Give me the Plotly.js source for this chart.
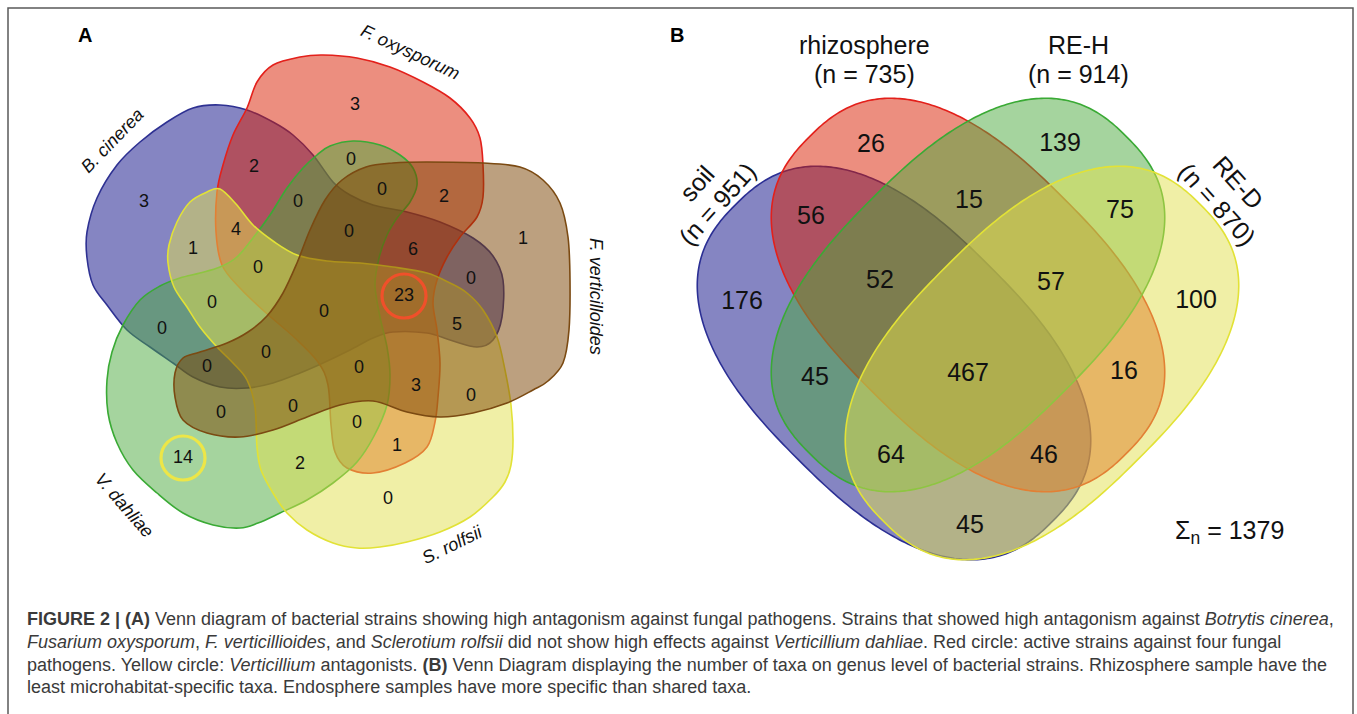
<!DOCTYPE html>
<html>
<head>
<meta charset="utf-8">
<script src="https://cdn.plot.ly/plotly-3.0.1.min.js"></script>
<style>
  html, body { margin: 0; padding: 0; background: #ffffff; }
  #chart { width: 1357px; height: 714px; }
</style>
</head>
<body>
<div id="chart"></div>
<script>
// ================= DATA =================
// Panel A: five fungal pathogens
const setNamesA = ['B. cinerea', 'F. oxysporum', 'F. verticilloides', 'S. rolfsii', 'V. dahliae'];
const setCodesA = ['C', 'O', 'F', 'S', 'D'];
// region keys: letters of the sets the region belongs to
const regionKeysA = ['C','O','F','S','D','CO','OD','OFD','OF','COD','COS','COFD','COF','CS','COSD','CF',
                     'COFS','CSD','COFSD','CD','CFS','CFD','CFSD','OFSD','OFS','FS','FD','FSD','OSD','OS','SD'];
const countsA     = [3, 3, 1, 0, 14, 2, 0, 0, 2, 0, 4, 0, 6, 1, 0, 0,
                     23, 0, 0, 0, 5, 0, 0, 0, 3, 0, 0, 0, 0, 1, 2];
const highlightA  = ['COFS', 'D'];   // red circle, yellow circle

// Panel B: genus-level taxa per microhabitat
const setNamesB   = ['soil', 'rhizosphere', 'RE-H', 'RE-D'];
const setCodesB   = ['S', 'R', 'H', 'D'];
const setSizesB   = [951, 735, 914, 870];
const regionKeysB = ['S','R','H','D','SR','RH','HD','SH','SD','RD','SRH','RHD','SHD','SRD','SRHD'];
const countsB     = [176, 26, 139, 100, 56, 15, 75, 45, 45, 16, 52, 57, 64, 46, 467];

// Caption
const captionLines = [
  '<b>FIGURE 2 | (A)</b> Venn diagram of bacterial strains showing high antagonism against fungal pathogens. Strains that showed high antagonism against <i>Botrytis cinerea</i>,',
  '<i>Fusarium oxysporum</i>, <i>F. verticillioides</i>, and <i>Sclerotium rolfsii</i> did not show high effects against <i>Verticillium dahliae</i>. Red circle: active strains against four fungal',
  'pathogens. Yellow circle: <i>Verticillium</i> antagonists. <b>(B)</b> Venn Diagram displaying the number of taxa on genus level of bacterial strains. Rhizosphere sample have the',
  'least microhabitat-specific taxa. Endosphere samples have more specific than shared taxa.'
];

// ================= GEOMETRY / STYLE (layout only) =================
const FONT = 'Liberation Sans, Arial, Helvetica, sans-serif';
const styleA = {
  C: {fill: 'rgba(11,11,133,0.5)',  line: '#2e3192'},
  O: {fill: 'rgba(217,29,0,0.5)',   line: '#e3201b'},
  D: {fill: 'rgba(75,169,61,0.5)',  line: '#3aaa35'},
  S: {fill: 'rgba(225,223,77,0.5)', line: '#e2e236'},
  F: {fill: 'rgba(121,65,0,0.5)',   line: '#7b4a12'}
};
const drawOrderA = ['C', 'O', 'D', 'S', 'F'];
// outline control points of the five blobs (page pixel space)
const blobA = {
  C: [[220,105],[247,110],[273,122],[293,135],[313,155],[333,182],[350,195],[373,205],[407,212],[440,222],
      [473,238],[493,256],[503,280],[502,317],[493,340],[477,347],[450,340],[427,333],[393,332],[373,338],
      [350,350],[323,363],[300,373],[273,383],[247,388],[220,387],[193,377],[173,363],[150,347],[127,330],
      [107,305],[93,285],[87,258],[87,232],[97,198],[117,165],[140,142],[167,122],[193,108]],
  O: [[323,55],[357,58],[390,67],[423,82],[450,98],[470,118],[480,138],[483,165],[483,197],[477,217],
      [460,237],[447,257],[437,280],[433,303],[437,330],[440,363],[438,397],[435,422],[427,447],[405,463],
      [373,473],[347,468],[335,452],[331,425],[328,385],[318,362],[295,338],[265,312],[240,288],[222,265],
      [216,232],[217,192],[223,165],[233,135],[247,108],[257,82],[273,65],[300,57]],
  D: [[317,155],[330,146],[353,141],[380,145],[400,155],[413,168],[417,185],[410,202],[397,218],[387,235],
      [379,258],[375,285],[380,317],[387,347],[390,375],[387,405],[374,436],[357,462],[333,483],[307,500],
      [280,513],[258,523],[240,528],[213,525],[183,513],[157,493],[133,470],[117,443],[108,413],[107,380],
      [112,352],[123,325],[140,300],[160,286],[180,278],[200,273],[220,267],[237,257],[253,238],[270,215],
      [287,188],[303,168]],
  S: [[220,189],[236,204],[253,225],[273,241],[297,255],[327,261],[360,263],[393,267],[427,273],[450,283],
      [467,293],[483,310],[497,337],[505,370],[511,405],[513,440],[511,465],[505,482],[493,497],[470,517],
      [440,532],[407,542],[380,547],[357,548],[333,543],[307,530],[287,513],[273,493],[261,470],[257,447],
      [255,407],[247,380],[233,363],[217,347],[200,327],[187,307],[174,287],[168,263],[169,245],[177,222],
      [190,202],[207,192]],
  F: [[297,263],[310,230],[325,200],[342,180],[366,167],[393,163],[427,162],[483,163],[520,167],[543,180],
      [560,203],[568,237],[570,280],[569,330],[563,363],[548,381],[533,390],[507,403],[473,413],[440,417],
      [407,412],[373,401],[340,405],[307,417],[273,430],[240,437],[207,433],[183,420],[175,397],[175,373],
      [183,358],[200,352],[227,343],[248,332],[267,316],[283,293]]
};
const labelPosA = {
  C:[144,202], O:[355,105], F:[523,239], S:[388,499], D:[183,458], CO:[254,167], OD:[351,160], OFD:[382,190],
  OF:[444,197], COD:[298,202], COS:[236,230], COFD:[349,232], COF:[413,250], CS:[193,249], COSD:[258,268],
  CF:[471,279], COFS:[404,296], CSD:[212,303], COFSD:[324,312], CD:[162,329], CFS:[457,325], CFD:[207,367],
  CFSD:[266,353], OFSD:[359,368], OFS:[416,386], FS:[471,396], FD:[221,413], FSD:[293,407], OSD:[357,423],
  OS:[397,446], SD:[300,464]
};
const highlightStyleA = [{color: '#f0502a', r: 22}, {color: '#ede647', r: 22}];
const setLabelPosA = {C:[112,141,-46], O:[410,52,25], F:[596,296,90], S:[452,545,-26], D:[124,505,49]};

const styleB = {
  S: {fill: 'rgba(11,11,133,0.5)',  line: '#2b2f94'},
  R: {fill: 'rgba(217,29,0,0.5)',   line: '#e3201b'},
  H: {fill: 'rgba(75,169,61,0.5)',  line: '#3aaa35'},
  D: {fill: 'rgba(225,223,77,0.5)', line: '#e2e236'}
};
// rounded (super-)ellipses: centre x, centre y, semi-major, semi-minor, rotation (deg, screen), exponent
const ellipseB = {
  S: [894, 363, 224, 136, 45, 2.5],
  R: [968, 295, 224, 136, 45, 2.5],
  H: [968, 295, 224, 136, -45, 2.5],
  D: [1042, 363, 224, 136, -45, 2.5]
};
const labelPosB = {
  S:[742,303], R:[871,146], H:[1060,145], D:[1196,302], SR:[811,218], RH:[969,202], HD:[1120,212],
  SH:[815,379], SD:[970,527], RD:[1124,373], SRH:[880,282], RHD:[1051,284], SHD:[891,457], SRD:[1044,457],
  SRHD:[968,375]
};
// set label positions: [x name, y name, x size, y size, angle]
const setLabelPosB = {
  S: [697,183, 717,204, -48],
  R: [864,45, 864,74, 0],
  H: [1078,45, 1078,74, 0],
  D: [1238,182, 1217,204, 48]
};

// ================= BUILD =================
function smoothPath(pts) {
  const n = pts.length;
  let d = 'M' + pts[0][0] + ',' + pts[0][1];
  for (let i = 0; i < n; i++) {
    const p0 = pts[(i - 1 + n) % n], p1 = pts[i], p2 = pts[(i + 1) % n], p3 = pts[(i + 2) % n];
    const c1 = [p1[0] + (p2[0] - p0[0]) / 6, p1[1] + (p2[1] - p0[1]) / 6];
    const c2 = [p2[0] - (p3[0] - p1[0]) / 6, p2[1] - (p3[1] - p1[1]) / 6];
    d += ' C' + c1[0].toFixed(2) + ',' + c1[1].toFixed(2) + ' ' + c2[0].toFixed(2) + ',' + c2[1].toFixed(2) + ' ' + p2[0] + ',' + p2[1];
  }
  return d + ' Z';
}
function superEllipsePath(cx, cy, a, b, angDeg, n) {
  const t = angDeg * Math.PI / 180, pts = [], N = 360, e = 2 / n;
  for (let k = 0; k < N; k++) {
    const p = 2 * Math.PI * k / N, c = Math.cos(p), s = Math.sin(p);
    const u = a * Math.sign(c) * Math.pow(Math.abs(c), e);
    const v = b * Math.sign(s) * Math.pow(Math.abs(s), e);
    pts.push([(cx + u * Math.cos(t) - v * Math.sin(t)).toFixed(2),
              (cy + u * Math.sin(t) + v * Math.cos(t)).toFixed(2)]);
  }
  return 'M' + pts.map(p => p.join(',')).join('L') + 'Z';
}

const shapes = [];
const annotations = [];
const traces = [];

// frame
shapes.push({type: 'rect', xref: 'x', yref: 'y', x0: 8, x1: 1353, y0: 8, y1: 760,
             line: {color: '#5a5a5a', width: 1.5}, fillcolor: 'rgba(0,0,0,0)', layer: 'below'});

// Panel A blobs
drawOrderA.forEach(code => {
  shapes.push({type: 'path', xref: 'x', yref: 'y', path: smoothPath(blobA[code]),
               fillcolor: styleA[code].fill, line: {color: styleA[code].line, width: 1.6}, layer: 'below'});
});
// highlight circles
highlightA.forEach((key, i) => {
  const p = labelPosA[key], st = highlightStyleA[i];
  shapes.push({type: 'circle', xref: 'x', yref: 'y', x0: p[0] - st.r, x1: p[0] + st.r,
               y0: p[1] - st.r, y1: p[1] + st.r, line: {color: st.color, width: 3.2},
               fillcolor: 'rgba(0,0,0,0)', layer: 'below'});
});
traces.push({
  type: 'scatter', mode: 'text',
  x: regionKeysA.map(k => labelPosA[k][0]), y: regionKeysA.map(k => labelPosA[k][1]),
  text: countsA.map(String), textposition: 'middle center',
  textfont: {family: FONT, size: 18, color: '#111111'}, hoverinfo: 'skip', showlegend: false
});
setCodesA.forEach((code, i) => {
  const p = setLabelPosA[code];
  annotations.push({x: p[0], y: p[1], xref: 'x', yref: 'y', text: '<i>' + setNamesA[i] + '</i>',
                    showarrow: false, textangle: p[2], font: {family: FONT, size: 18, color: '#111111'},
                    xanchor: 'center', yanchor: 'middle'});
});

// Panel B shapes
setCodesB.forEach(code => {
  const e = ellipseB[code];
  shapes.push({type: 'path', xref: 'x', yref: 'y', path: superEllipsePath(e[0], e[1], e[2], e[3], e[4], e[5]),
               fillcolor: styleB[code].fill, line: {color: styleB[code].line, width: 1.6}, layer: 'below'});
});
traces.push({
  type: 'scatter', mode: 'text',
  x: regionKeysB.map(k => labelPosB[k][0]), y: regionKeysB.map(k => labelPosB[k][1]),
  text: countsB.map(String), textposition: 'middle center',
  textfont: {family: FONT, size: 25, color: '#111111'}, hoverinfo: 'skip', showlegend: false
});
setCodesB.forEach((code, i) => {
  const p = setLabelPosB[code];
  annotations.push({x: p[0], y: p[1], xref: 'x', yref: 'y', text: setNamesB[i], showarrow: false,
                    textangle: p[4], font: {family: FONT, size: 25, color: '#111111'}});
  annotations.push({x: p[2], y: p[3], xref: 'x', yref: 'y', text: '(n = ' + setSizesB[i] + ')', showarrow: false,
                    textangle: p[4], font: {family: FONT, size: 25, color: '#111111'}});
});
const totalB = countsB.reduce((s, v) => s + v, 0);
annotations.push({x: 1229, y: 532, xref: 'x', yref: 'y', text: 'Σ<sub>n</sub> = ' + totalB, showarrow: false,
                  font: {family: FONT, size: 25, color: '#111111'}});

// panel letters
annotations.push({x: 85, y: 35, xref: 'x', yref: 'y', text: '<b>A</b>', showarrow: false,
                  font: {family: FONT, size: 20, color: '#000000'}});
annotations.push({x: 677, y: 35, xref: 'x', yref: 'y', text: '<b>B</b>', showarrow: false,
                  font: {family: FONT, size: 20, color: '#000000'}});

// caption
captionLines.forEach((line, i) => {
  annotations.push({x: 25, y: 619 + i * 22.8, xref: 'x', yref: 'y', text: line, showarrow: false,
                    xanchor: 'left', yanchor: 'middle', font: {family: FONT, size: 18, color: '#3a3a3a'}});
});

const layout = {
  width: 1357, height: 714,
  margin: {l: 0, r: 0, t: 0, b: 0, pad: 0},
  paper_bgcolor: '#ffffff', plot_bgcolor: '#ffffff',
  xaxis: {range: [0, 1357], visible: false, fixedrange: true},
  yaxis: {range: [714, 0], visible: false, fixedrange: true},
  shapes: shapes, annotations: annotations, showlegend: false, hovermode: false
};
Plotly.newPlot('chart', traces, layout, {staticPlot: true, displayModeBar: false});
</script>
</body>
</html>
